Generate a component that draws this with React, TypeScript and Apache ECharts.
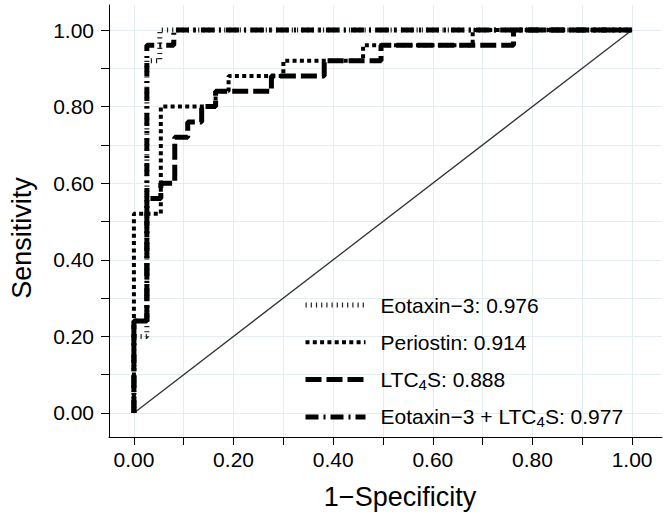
import React, { useEffect, useRef } from 'react';
import * as echarts from 'echarts';

// Legend / series names
const seriesNames = [
  'Eotaxin−3: 0.976',
  'Periostin: 0.914',
  'LTC4S: 0.888',
  'Eotaxin−3 + LTC4S: 0.977',
];

// ROC points (1-Specificity, Sensitivity)
const eotaxinFpr = [0, 0, 0.026, 0.052, 1];
const eotaxinTpr = [0, 0.2, 0.92, 1, 1];

const periostinFpr = [0, 0, 0.054, 0.164, 0.19, 0.3, 0.46, 0.68, 1];
const periostinTpr = [0, 0.52, 0.8, 0.84, 0.88, 0.92, 0.96, 1, 1];

const ltc4sFpr = [0, 0, 0.026, 0.054, 0.082, 0.108, 0.136, 0.164, 0.276, 0.382, 0.496, 0.762, 1];
const ltc4sTpr = [0, 0.24, 0.56, 0.6, 0.72, 0.76, 0.8, 0.84, 0.88, 0.92, 0.96, 1, 1];

const comboFpr = [0, 0, 0.026, 0.08, 1];
const comboTpr = [0, 0.24, 0.96, 1, 1];

const refFpr = [0, 1];
const refTpr = [0, 1];

// Axis ticks
const tickValues = [0, 0.1, 0.2, 0.3, 0.4, 0.5, 0.6, 0.7, 0.8, 0.9, 1];
const labelValues = [0, 0.2, 0.4, 0.6, 0.8, 1];

const FONT = '"Liberation Sans", Arial, Helvetica, sans-serif';

const zip = (xs: number[], ys: number[]) => xs.map((x, i) => [x, ys[i]]);

export default function App() {
  const ref = useRef<HTMLDivElement>(null);

  useEffect(() => {
    if (!ref.current) return;
    const chart = echarts.init(ref.current, undefined, { renderer: 'svg' });

    const axisCommon = {
      type: 'value' as const,
      axisLine: { show: true, onZero: false, lineStyle: { color: '#000', width: 1 } },
      axisTick: { show: true, length: 8, customValues: tickValues, lineStyle: { color: '#000', width: 1 } },
      splitLine: { show: true, lineStyle: { color: '#e4edef', width: 1 } },
      nameLocation: 'middle' as const,
    };

    const option: any = {
      animation: false,
      backgroundColor: '#ffffff',
      grid: { left: 107, right: 2, top: 5, bottom: 83, containLabel: false },
      xAxis: {
        ...axisCommon,
        min: -0.05,
        max: 1.06,
        axisLabel: {
          customValues: labelValues,
          formatter: (v: number) => v.toFixed(2),
          fontSize: 21,
          fontFamily: FONT,
          color: '#000',
          margin: 12,
        },
        name: '1−Specificity',
        nameGap: 46,
        nameTextStyle: { fontSize: 27, fontFamily: FONT, color: '#000', padding: [0, 0, 0, 29] },
      },
      yAxis: {
        ...axisCommon,
        min: -0.0627,
        max: 1.0653,
        axisLabel: {
          customValues: labelValues,
          formatter: (v: number) => v.toFixed(2),
          fontSize: 21,
          fontFamily: FONT,
          color: '#000',
          margin: 15,
        },
        name: 'Sensitivity',
        nameGap: 74,
        nameTextStyle: { fontSize: 27, fontFamily: FONT, color: '#000', padding: [0, 34, 0, 0] },
      },
      legend: {
        orient: 'vertical',
        left: 303,
        top: 293,
        padding: 0,
        itemWidth: 60,
        itemHeight: 12,
        itemGap: 13.3,
        selectedMode: false,
        itemStyle: { opacity: 0 },
        data: [
          { name: seriesNames[0], lineStyle: { width: 5 } },
          { name: seriesNames[1], lineStyle: { width: 4 } },
          { name: seriesNames[2], lineStyle: { width: 5 } },
          { name: seriesNames[3], lineStyle: { width: 5 } },
        ],
        formatter: (n: string) => n.replace('LTC4S', 'LTC{sub|4}S'),
        textStyle: {
          fontSize: 21,
          fontFamily: FONT,
          color: '#000',
          lineHeight: 24,
          padding: [0, 0, 0, 10],
          rich: {
            sub: { fontSize: 15, fontFamily: FONT, color: '#000', verticalAlign: 'bottom', lineHeight: 22 },
          },
        },
      },
      series: [
        {
          type: 'line',
          name: 'reference',
          data: zip(refFpr, refTpr),
          symbol: 'none',
          silent: true,
          lineStyle: { color: '#333', width: 1.3 },
        },
        {
          type: 'line',
          name: seriesNames[0],
          data: zip(eotaxinFpr, eotaxinTpr),
          step: 'end',
          symbol: 'none',
          silent: true,
          itemStyle: { color: '#222' },
          lineStyle: { color: '#222', width: 5, type: [1.2, 4], cap: 'butt' },
        },
        {
          type: 'line',
          name: seriesNames[1],
          data: zip(periostinFpr, periostinTpr),
          step: 'end',
          symbol: 'none',
          silent: true,
          itemStyle: { color: '#000' },
          lineStyle: { color: '#000', width: 4, type: [4, 3.3], cap: 'butt' },
        },
        {
          type: 'line',
          name: seriesNames[2],
          data: zip(ltc4sFpr, ltc4sTpr),
          step: 'end',
          symbol: 'none',
          silent: true,
          itemStyle: { color: '#000' },
          lineStyle: { color: '#000', width: 5, type: [16, 5], cap: 'butt' },
        },
        {
          type: 'line',
          name: seriesNames[3],
          data: zip(comboFpr, comboTpr),
          step: 'end',
          symbol: 'none',
          silent: true,
          itemStyle: { color: '#000' },
          lineStyle: { color: '#000', width: 5, type: [13, 5, 2, 5], cap: 'butt' },
        },
      ],
    };

    chart.setOption(option);
    return () => chart.dispose();
  }, []);

  return (
    <div
      ref={ref}
      style={{ position: 'fixed', left: 0, top: 0, width: 664, height: 520, background: '#fff' }}
    />
  );
}
